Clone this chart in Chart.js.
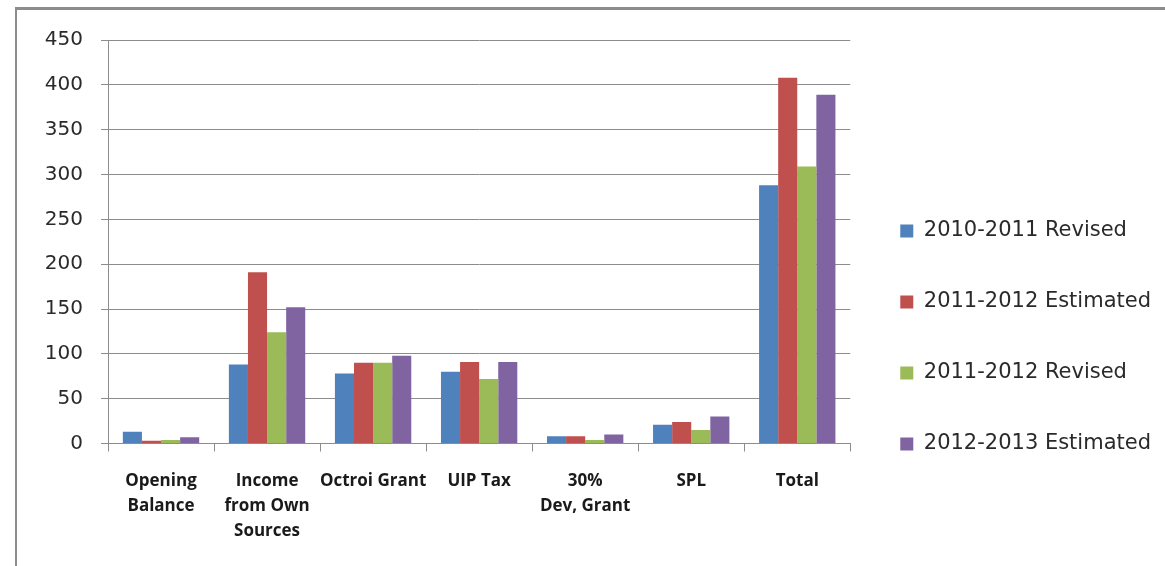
<!DOCTYPE html>
<html>
<head>
<meta charset="utf-8">
<script src="https://cdn.jsdelivr.net/npm/chart.js@4/dist/chart.umd.min.js"></script>
<style>
    html, body { margin: 0; padding: 0; background: #fff; overflow: hidden; }
    body { width: 1165px; height: 566px; position: relative; }
    .frame {
        position: absolute; left: 15px; top: 7px; width: 1200px; height: 700px;
        border-top: 3px solid #8c8c8c; border-left: 2px solid #8c8c8c;
    }
    #budget-chart { position: absolute; left: 16px; top: 10px; }
</style>
</head>
<body>
<div class="frame"></div>
<canvas id="budget-chart" width="1149" height="639"></canvas>
<script>
const categories = [
    ['Opening', 'Balance'],
    ['Income', 'from Own', 'Sources'],
    'Octroi Grant',
    'UIP Tax',
    ['30%', 'Dev, Grant'],
    'SPL',
    'Total'
];

const revised1011 = [13, 88, 78, 80, 8, 21, 288];
const estimated1112 = [3, 191, 90, 91, 8, 24, 408];
const revised1112 = [4, 124, 90, 72, 4, 15, 309];
const estimated1213 = [7, 152, 98, 91, 10, 30, 389];

const seriesNames = ['2010-2011 Revised', '2011-2012 Estimated', '2011-2012 Revised', '2012-2013 Estimated'];
const yTicks = [0, 50, 100, 150, 200, 250, 300, 350, 400, 450];

const lineGray = '#8c8c8c';

function bars(label, data, color) {
    return {
        label: label,
        data: data,
        backgroundColor: color,
        borderWidth: 0,
        categoryPercentage: 0.72,
        barPercentage: 1.0
    };
}

function createChart() {
    const ctx = document.getElementById('budget-chart');

    new Chart(ctx, {
        type: 'bar',
        data: {
            labels: categories,
            datasets: [
                bars(seriesNames[0], revised1011, '#4f81bd'),
                bars(seriesNames[1], estimated1112, '#c0504d'),
                bars(seriesNames[2], revised1112, '#9bbb59'),
                bars(seriesNames[3], estimated1213, '#8064a2')
            ]
        },
        options: {
            responsive: false,
            animation: false,
            devicePixelRatio: 1,
            layout: { padding: { left: 29, top: 16, right: 4, bottom: 0 } },
            plugins: {
                tooltip: { enabled: false },
                legend: {
                    position: 'right',
                    align: 'center',
                    // the default cap (quarter of the width) would cut the labels
                    maxWidth: 320,
                    labels: {
                        boxWidth: 13,
                        boxHeight: 13,
                        padding: 50,
                        color: '#2a2a2a',
                        font: { family: "'DejaVu Sans'", size: 21 }
                    }
                }
            },
            scales: {
                x: {
                    grid: {
                        drawOnChartArea: false,
                        drawTicks: true,
                        tickLength: 8,
                        color: lineGray
                    },
                    border: { color: lineGray, width: 1 },
                    ticks: {
                        autoSkip: false,
                        maxRotation: 0,
                        padding: 17,
                        color: '#1a1a1a',
                        font: { family: "'Open Sans'", size: 17, weight: 'bold', lineHeight: 1.47 }
                    },
                    afterFit: (scale) => { scale.height = 205.5; }
                },
                y: {
                    min: 0,
                    max: 450,
                    afterBuildTicks: (scale) => { scale.ticks = yTicks.map(v => ({ value: v })); },
                    grid: {
                        color: lineGray,
                        tickLength: 7
                    },
                    border: { color: lineGray, width: 1 },
                    ticks: {
                        padding: 18,
                        color: '#2a2a2a',
                        font: { family: "'DejaVu Sans'", size: 20 }
                    },
                    afterFit: (scale) => { scale.width = 63; }
                }
            }
        }
    });
}

Promise.all([
    document.fonts.load("21px 'DejaVu Sans'"),
    document.fonts.load("bold 17px 'Open Sans'")
]).catch(() => {}).then(createChart);
</script>
</body>
</html>
